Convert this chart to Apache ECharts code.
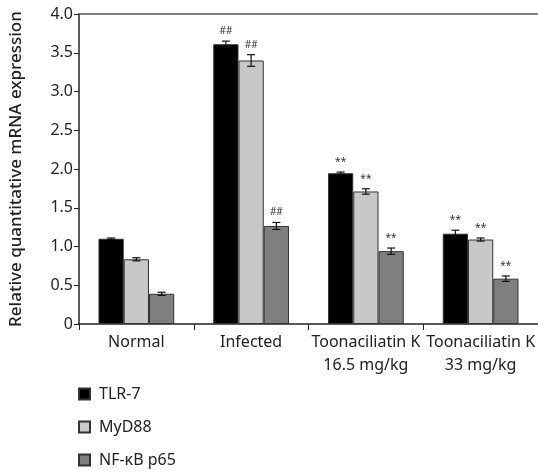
<!DOCTYPE html>
<html>
<head>
<meta charset="utf-8">
<script src="https://cdn.jsdelivr.net/npm/echarts@6/dist/echarts.min.js"></script>
<style>
  html, body { margin: 0; padding: 0; background: #fff; }
  #chart { width: 538px; height: 473px; }
</style>
</head>
<body>
<div id="chart"></div>
<script>
// data
const categories = ['Normal', 'Infected', 'Toonaciliatin K\n16.5 mg/kg', 'Toonaciliatin K\n33 mg/kg'];
const seriesNames = ['TLR-7', 'MyD88', 'NF-\u03baB p65'];
const tlr7 = [1.10, 3.61, 1.945, 1.165];
const myd88 = [0.835, 3.40, 1.71, 1.09];
const nfkb = [0.39, 1.265, 0.94, 0.585];
const tlr7Err = [0.01, 0.04, 0.015, 0.045];
const myd88Err = [0.02, 0.075, 0.035, 0.02];
const nfkbErr = [0.02, 0.045, 0.04, 0.035];
const tlr7Mark = ['', '##', '**', '**'];
const myd88Mark = ['', '##', '**', '**'];
const nfkbMark = ['', '##', '**', '**'];

const colors = ['#000000', '#c8c8c8', '#7f7f7f'];
const font = 'Noto Sans';
const gapPct = 0.34;

const values = [tlr7, myd88, nfkb];
const errs = [tlr7Err, myd88Err, nfkbErr];
const marks = [tlr7Mark, myd88Mark, nfkbMark];

// error bar + significance mark rows: [category, value, err, seriesIdx, mark]
const errRows = [];
values.forEach((arr, s) => {
  arr.forEach((v, i) => errRows.push([i, v, errs[s][i], s, marks[s][i]]));
});

const chart = echarts.init(document.getElementById('chart'));

chart.setOption({
  animation: false,
  textStyle: { fontFamily: font },
  grid: { left: 73, right: -1, top: 14, bottom: 149 },
  legend: {
    orient: 'vertical',
    left: 78,
    top: 386,
    padding: 0,
    itemWidth: 11,
    itemHeight: 11,
    itemGap: 17,
    icon: 'rect',
    data: seriesNames,
    textStyle: { fontFamily: font, fontSize: 16, color: '#222', padding: [0, 0, 0, 4] }
  },
  xAxis: [{
    type: 'category',
    data: categories,
    axisLine: { lineStyle: { color: '#222', width: 1.5 } },
    axisTick: { show: true, length: 6, lineStyle: { color: '#222' } },
    axisLabel: { fontFamily: font, fontSize: 16, color: '#222', margin: 7, lineHeight: 23, interval: 0 }
  }, {
    type: 'category',
    data: categories,
    position: 'top',
    axisLine: { lineStyle: { color: '#555', width: 1.5 } },
    axisTick: { show: false },
    axisLabel: { show: false }
  }],
  yAxis: {
    type: 'value',
    min: 0,
    max: 4,
    interval: 0.5,
    name: 'Relative quantitative mRNA expression',
    nameLocation: 'middle',
    nameGap: 54,
    nameTextStyle: { fontFamily: font, fontSize: 17, fontWeight: 500, color: '#222' },
    axisLine: { show: true, lineStyle: { color: '#222', width: 1.5 } },
    axisTick: { show: true, length: 5, lineStyle: { color: '#222' } },
    splitLine: { show: false },
    axisLabel: {
      fontFamily: font, fontSize: 16, color: '#222', margin: 6,
      formatter: v => (v === 0 ? '0' : v.toFixed(1))
    }
  },
  series: [
    ...values.map((arr, s) => ({
      name: seriesNames[s],
      type: 'bar',
      data: arr,
      barGap: '0%',
      barCategoryGap: (gapPct * 100) + '%',
      itemStyle: { color: colors[s], borderColor: '#333', borderWidth: 1 }
    })),
    {
      type: 'custom',
      data: errRows,
      encode: { x: 0, y: 1 },
      z: 10,
      renderItem: function (params, api) {
        const cat = api.value(0);
        const v = api.value(1);
        const e = api.value(2);
        const s = api.value(3);
        const mark = errRows[params.dataIndex][4];
        const bandW = api.size([1, 0])[0];
        const barW = bandW * (1 - gapPct) / 3;
        const center = api.coord([cat, v]);
        const x = center[0] + (s - 1) * barW;
        const yHi = api.coord([cat, v + e])[1];
        const yLo = api.coord([cat, v - e])[1];
        const hw = 4;
        const st = { stroke: '#111', lineWidth: 1.2 };
        const children = [
          { type: 'line', shape: { x1: x, y1: yHi, x2: x, y2: yLo }, style: st },
          { type: 'line', shape: { x1: x - hw, y1: yHi, x2: x + hw, y2: yHi }, style: st },
          { type: 'line', shape: { x1: x - hw, y1: yLo, x2: x + hw, y2: yLo }, style: st }
        ];
        if (mark) {
          children.push({
            type: 'text',
            style: {
              text: mark, x: x, y: yHi - 5,
              align: 'center', verticalAlign: 'bottom',
              fontFamily: font, fontSize: 10, fill: '#333'
            }
          });
        }
        return { type: 'group', children: children };
      }
    }
  ]
});
</script>
</body>
</html>
